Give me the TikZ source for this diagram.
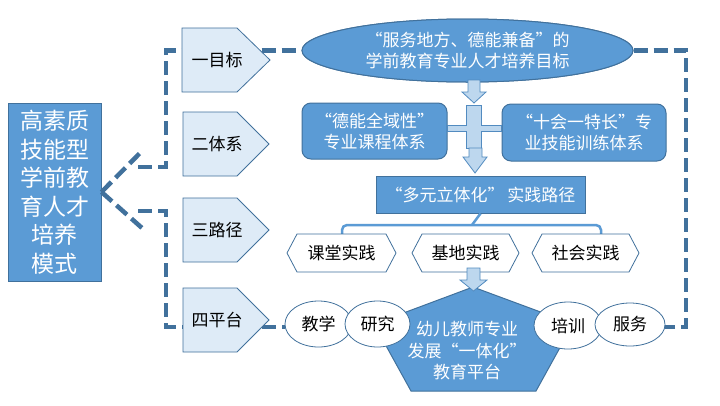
\documentclass[tikz,border=0pt]{standalone}
\usepackage{fontspec}
\setmainfont{Noto Sans CJK SC}
\usetikzlibrary{shapes.geometric,calc}
\definecolor{mid}{HTML}{5B9BD5}
\definecolor{edge}{HTML}{41719C}
\definecolor{pale}{HTML}{DEEBF7}
\definecolor{arrfill}{HTML}{BDD7EE}
\definecolor{dashblue}{HTML}{41719C}
\begin{document}
\begin{tikzpicture}[x=1pt,y=-1pt,
  txt/.style={font=\fontsize{17}{21}\selectfont, align=center, inner sep=0pt},
  dashln/.style={draw=dashblue, line width=4.5pt, dash pattern=on 14pt off 6pt},
  chev/.style={draw=edge, fill=pale, line width=0.8pt},
  bluebox/.style={draw=edge, fill=mid, line width=1pt},
  arrowshape/.style={draw=mid!90!black, fill=arrfill, line width=0.8pt},
  whiteshape/.style={draw=edge, fill=white, line width=0.8pt},
  bracket/.style={draw=mid, line width=2.5pt, rounded corners=5pt}]
\useasboundingbox (0,0) rectangle (720,405);
\fill[white] (0,0) rectangle (720,405);

% left box
\node[bluebox, minimum width=93pt, minimum height=178pt, inner sep=0pt, text=white,
  font=\fontsize{23}{28.5}\selectfont, align=center] (lb) at (54.5,192)
  {高素质\\技能型\\学前教\\育人才\\培养\\模式};

% top ellipse
\node[ellipse, bluebox, minimum width=331pt, minimum height=63pt, txt, text=white] (goal)
  at (467.5,50.5) {“服务地方、德能兼备”的\\学前教育专业人才培养目标};

% ellipses of the platform (named early for connectors)
\path (318.5,324) coordinate (teachc) (630,324.5) coordinate (servec);

% dashed connectors
\coordinate (d1) at (142,151);
\coordinate (d2) at (142,228);
\coordinate (e1) at (138,167);
\coordinate (e2) at (138,211);
\coordinate (tw) at (285,327);
\coordinate (se) at (665,327);
\draw[dashln] (lb.east) -- (d1);
\draw[dashln] (lb.east) -- (d2);
\draw[dashln] (e1) -- (166,167) -- (166,50.5) -- (goal.west);
\draw[dashln] (e2) -- (166,211) -- (166,327) -- (tw);
\draw[dashln] (goal.east) -- (686,50.5) -- (686,327) -- (se);

% chevrons
\draw[chev] (182,28) -- (237,28) -- (270,60) -- (237,92) -- (182,92) -- cycle;
\node[txt] (c1) at (217,60) {一目标};
\draw[chev] (183,112) -- (237,112) -- (269,144) -- (237,176) -- (183,176) -- cycle;
\node[txt] (c2) at (217,144) {二体系};
\draw[chev] (183,198) -- (237,198) -- (269,230) -- (237,262) -- (183,262) -- cycle;
\node[txt] (c3) at (217,230) {三路径};
\draw[chev] (183,288) -- (237,288) -- (269,320) -- (237,352) -- (183,352) -- cycle;
\node[txt] (c4) at (217,320) {四平台};

% redraw goal on top of dashed line
\node[ellipse, bluebox, minimum width=331pt, minimum height=63pt, txt, text=white]
  at (467.5,50.5) {“服务地方、德能兼备”的\\学前教育专业人才培养目标};

% system boxes
\node[bluebox, rounded corners=9pt, minimum width=145pt, minimum height=56pt, txt, text=white]
  (sys1) at (374.5,131) {“德能全域性”\\专业课程体系};
\node[bluebox, rounded corners=9pt, minimum width=164pt, minimum height=57pt, txt, text=white]
  (sys2) at (584,132.5) {“十会一特长”专\\业技能训练体系};

% arrows and cross
\draw[arrowshape] (468,80) -- (480,80) -- (480,92) -- (486,92) -- (474,103) -- (462,92) -- (468,92) -- cycle;
\draw[arrowshape] (466,105) -- (481,105) -- (481,125) -- (501,125) -- (501,131) -- (481,131)
  -- (481,148) -- (466,148) -- (466,131) -- (447,131) -- (447,125) -- (466,125) -- cycle;
\draw[arrowshape] (469,148) -- (482,148) -- (482,157) -- (487,157) -- (475,173) -- (463,157) -- (469,157) -- cycle;

% practice path
\node[bluebox, minimum width=209pt, minimum height=37pt, txt, text=white] (path)
  at (480.5,194.5) {“多元立体化”\,实践路径};

% bracket
\draw[bracket] (342,238) -- (342,225) -- (601,225) -- (601,238);
\draw[draw=mid, line width=2.5pt] (path.south) -- (472,225);

% hexagons
\draw[whiteshape] (287,253) -- (297,234) -- (386,234) -- (396,253) -- (386,272) -- (297,272) -- cycle;
\node[txt] (h1) at (341.5,253) {课堂实践};
\draw[whiteshape] (412,253) -- (422,234) -- (509,234) -- (519,253) -- (509,272) -- (422,272) -- cycle;
\node[txt] (h2) at (465.5,253) {基地实践};
\draw[whiteshape] (532,253) -- (542,234) -- (629,234) -- (639,253) -- (629,272) -- (542,272) -- cycle;
\node[txt] (h3) at (585.5,253) {社会实践};

% pentagon
\draw[bluebox] (473,287) -- (573,324) -- (536,391) -- (411,391) -- (374,324) -- cycle;
\node[txt, text=white, font=\fontsize{17}{21.5}\selectfont] (plat) at (467,351)
  {幼儿教师专业\\发展“一体化”\\教育平台};

% arrow to pentagon
\draw[arrowshape] (467,268) -- (480,268) -- (480,280) -- (487,280) -- (473.5,291) -- (460,280) -- (467,280) -- cycle;

% ellipses
\node[ellipse, whiteshape, minimum width=67pt, minimum height=46pt, txt] (teach) at (teachc) {教学};
\node[ellipse, whiteshape, minimum width=65pt, minimum height=46pt, txt] (research) at (377.5,324) {研究};
\node[ellipse, whiteshape, minimum width=68pt, minimum height=47pt, txt] (train) at (568,325.5) {培训};
\node[ellipse, whiteshape, minimum width=70pt, minimum height=43pt, txt] (serve) at (servec) {服务};
\end{tikzpicture}
\end{document}
